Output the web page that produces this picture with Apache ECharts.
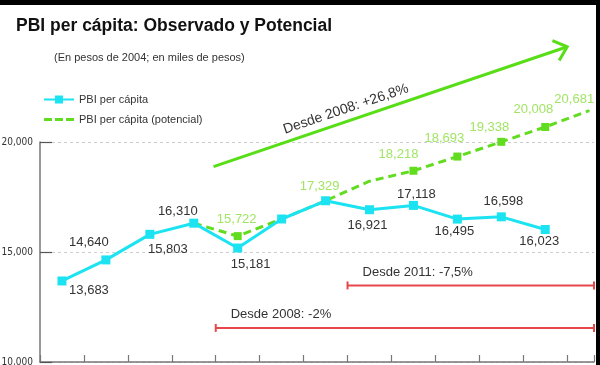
<!DOCTYPE html>
<html><head><meta charset="utf-8">
<script src="https://cdn.jsdelivr.net/npm/echarts@6/dist/echarts.min.js"></script>
<style>html,body{margin:0;padding:0;background:#fff}#c{width:600px;height:365px}</style>
</head><body><div id="c"></div>
<script>
// ---- data ----
const years = ['2005','2006','2007','2008','2009','2010','2011','2012','2013','2014','2015','2016','2017'];
const observed = [13683,14640,15803,16310,15181,16500,17329,16921,17118,16495,16598,16023];
const potential = [null,null,null,16310,15722,16500,17329,18218,18693,19338,20008,20681,21430];
const yTickValues = [10000,15000,20000];
const titleText = 'PBI per cápita: Observado y Potencial';
const subtitleText = '(En pesos de 2004; en miles de pesos)';
const seriesNames = ['PBI per cápita','PBI per cápita (potencial)'];
const arrowText = 'Desde 2008: +26,8%';
const bar2011Text = 'Desde 2011: -7,5%';
const bar2008Text = 'Desde 2008: -2%';

// ---- styles / placement ----
const CYAN = '#1CE3F1', GREEN = '#62DC1E', GREEN_LBL = '#A2E566', ARROW = '#58DE16', RED = '#E5484B';
const FONT = '"Liberation Sans", Arial, sans-serif';
const X_MAX = 12.61;
const obsLabelOffset = [[27,9],[-17,-17],[18,15],[-16,-12],[13,16],null,null,[-2,16],[3,-11],[-3,12],[2,-15],[-6,12]];
const potLabelOffset = [null,null,null,null,[-1,-17],null,[-6,-14],[29,-27],[31,-32],[32,-29],[32,-32],[29,-28],null];
const potMarkerShown = [false,false,false,false,true,false,false,false,true,true,true,true,false];
// annotation anchors in data units (x: year index, y: pesos)
const arrowFrom = [3.95, 18880], arrowTo = [12.0, 24330];
const bars = [
  {text: bar2011Text, from: 7, y: 13480},
  {text: bar2008Text, from: 4, y: 11550}
];

const fmt = v => Math.round(v).toLocaleString('en-US');

const chart = echarts.init(document.getElementById('c'), null, {renderer:'canvas'});

const obsData = observed.map((v,i)=>({
  value:[i+0.5, v],
  label: obsLabelOffset[i] ? {show:true, offset: obsLabelOffset[i]} : {show:false}
}));
const potData = [];
potential.forEach((v,i)=>{
  if (v == null) return;
  potData.push({
    value:[i+0.5, v],
    symbolSize: potMarkerShown[i] ? 8 : 1,
    label: potLabelOffset[i] ? {show:true, offset: potLabelOffset[i]} : {show:false}
  });
});

chart.setOption({
  animation:false,
  textStyle:{fontFamily:FONT},
  title:[
    {text:titleText, left:16, top:17, padding:0,
     textStyle:{fontSize:17.5, fontWeight:'bold', color:'#111', fontFamily:FONT}},
    {text:subtitleText, left:54, top:52, padding:0,
     textStyle:{fontSize:11, fontWeight:'normal', color:'#333', fontFamily:FONT}}
  ],
  legend:{
    orient:'vertical', left:43, top:94, padding:0, itemGap:9,
    itemWidth:30, itemHeight:10,
    textStyle:{fontSize:11, color:'#333', fontFamily:FONT},
    data:[{name:seriesNames[0]},
          {name:seriesNames[1], icon:'path://M0,0h8v3h-8z M11,0h8v3h-8z M22,0h8v3h-8z'}]
  },
  grid:{left:40, right:6, top:142, bottom:3, outerBoundsMode:'none'},
  xAxis:{
    type:'value', min:0, max:X_MAX, interval:1,
    axisLine:{show:true, lineStyle:{color:'#777', width:1.5}},
    axisTick:{show:true, inside:true, length:7, lineStyle:{color:'#777', width:1.2}},
    axisLabel:{show:false}, splitLine:{show:false}
  },
  yAxis:{
    type:'value', min:yTickValues[0], max:yTickValues[yTickValues.length-1], interval:5000,
    axisLine:{show:true, lineStyle:{color:'#777', width:1.5}},
    axisTick:{show:true, inside:true, length:12, lineStyle:{color:'#555', width:1.2}},
    axisLabel:{show:true, margin:7, fontSize:10, color:'#333',
      fontFamily:'"Liberation Sans Narrow", "DejaVu Sans Condensed", sans-serif',
      formatter: v => fmt(v)},
    splitLine:{show:true, lineStyle:{color:'#ccc', type:[3,3], width:1}}
  },
  series:[
    {
      name:seriesNames[1], type:'line', z:2, clip:false,
      data:potData, symbol:'rect', showAllSymbol:true,
      lineStyle:{color:GREEN, width:3, type:[8,5]},
      itemStyle:{color:GREEN},
      label:{position:'inside', color:GREEN_LBL, fontSize:13, fontFamily:FONT, textBorderWidth:0,
        formatter:p=>fmt(p.value[1])},
      emphasis:{disabled:true}
    },
    {
      name:seriesNames[0], type:'line', z:3, clip:false,
      data:obsData, symbol:'rect', symbolSize:9, showAllSymbol:true,
      lineStyle:{color:CYAN, width:3},
      itemStyle:{color:CYAN},
      label:{position:'inside', color:'#333', fontSize:13, fontFamily:FONT, textBorderWidth:0,
        formatter:p=>fmt(p.value[1])},
      emphasis:{disabled:true}
    }
  ]
});

// ---- annotations through the chart's own scales ----
const px = pt => chart.convertToPixel({gridIndex:0}, pt);
const g = [];
// frame strips
g.push({type:'rect', shape:{x:0,y:0,width:600,height:5}, style:{fill:'#000'}, z:100});
g.push({type:'rect', shape:{x:596,y:0,width:4,height:365}, style:{fill:'#000'}, z:100});

// arrow
const A = px(arrowFrom), B = px(arrowTo);
const dx = B[0]-A[0], dy = B[1]-A[1], len = Math.hypot(dx,dy);
const ux = dx/len, uy = dy/len;
const rot = (vx,vy,a)=>[vx*Math.cos(a)-vy*Math.sin(a), vx*Math.sin(a)+vy*Math.cos(a)];
const a1 = rot(-ux,-uy,0.72), a2 = rot(-ux,-uy,-0.72), H = 16;
g.push({type:'polyline', shape:{points:[A,[B[0]-ux*1.5,B[1]-uy*1.5]]}, style:{stroke:ARROW, lineWidth:3, fill:null}, z:50});
g.push({type:'polyline', shape:{points:[[B[0]+a1[0]*H,B[1]+a1[1]*H],B,[B[0]+a2[0]*H,B[1]+a2[1]*H]]},
  style:{stroke:ARROW, lineWidth:3, fill:null, lineJoin:'miter'}, z:50});
const t = 0.385, nx = uy, ny = -ux;
g.push({type:'text', x:A[0]+dx*t+nx*12, y:A[1]+dy*t+ny*12, rotation:Math.atan2(-dy,dx),
  style:{text:arrowText, font:'14px '+FONT, fill:'#333', align:'center', verticalAlign:'middle'}, z:50});

// red range bars
bars.forEach(b=>{
  const L = px([b.from, b.y]), R = px([X_MAX, b.y]);
  g.push({type:'line', shape:{x1:L[0],y1:L[1],x2:R[0],y2:R[1]}, style:{stroke:RED, lineWidth:2}, z:50});
  [L,R].forEach(P=>g.push({type:'line', shape:{x1:P[0],y1:P[1]-4,x2:P[0],y2:P[1]+4}, style:{stroke:RED, lineWidth:2}, z:50}));
  g.push({type:'text', x:L[0]+15, y:L[1]-13,
    style:{text:b.text, font:'13px '+FONT, fill:'#333', align:'left', verticalAlign:'middle'}, z:50});
});
chart.setOption({graphic:g});
</script>
</body></html>
